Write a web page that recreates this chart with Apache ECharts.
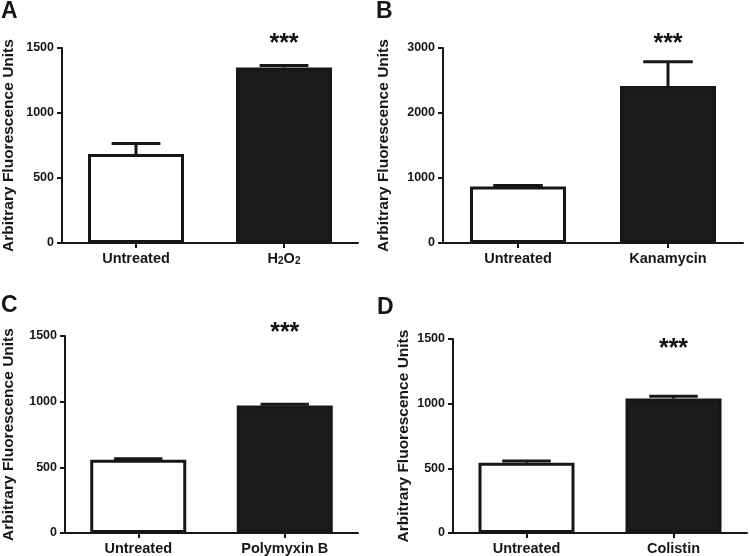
<!DOCTYPE html>
<html><head><meta charset="utf-8">
<script src="https://cdn.jsdelivr.net/npm/echarts@6/dist/echarts.min.js"></script>
<style>html,body{margin:0;padding:0;background:#fff}#c{width:750px;height:556px}</style>
</head><body><div id="c"></div>
<script>
// ---- data ----
const panelLetters = ['A', 'B', 'C', 'D'];
const categoriesA = ['Untreated', 'H2O2'];
const categoriesB = ['Untreated', 'Kanamycin'];
const categoriesC = ['Untreated', 'Polymyxin B'];
const categoriesD = ['Untreated', 'Colistin'];
const meansA = [685, 1350];
const errorsA = [80, 15];
const meansB = [870, 2415];
const errorsB = [15, 375];
const meansC = [558, 970];
const errorsC = [8, 10];
const meansD = [544, 1040];
const errorsD = [13, 18];
const yMaxes = [1500, 3000, 1500, 1500];
const yIntervals = [500, 1000, 500, 500];
const starLevels = [1530, 3060, 1525, 1425];
const starText = '***';
const yTitle = 'Arbitrary Fluorescence Units';

// ---- layout ----
const grids = [
  {left: 60, top: 48, width: 298, height: 195},
  {left: 443, top: 48, width: 300, height: 195},
  {left: 63, top: 336, width: 295, height: 197},
  {left: 453, top: 339, width: 294, height: 195}
];
const nameGaps = [45, 51, 48, 41];
const letterPos = [[1, 0], [376, 0], [1, 294], [377, 296]];
const FONT = '"Liberation Sans", Arial, Helvetica, sans-serif';
const INK = '#161616';

const cats = [categoriesA, categoriesB, categoriesC, categoriesD];
const means = [meansA, meansB, meansC, meansD];
const errs = [errorsA, errorsB, errorsC, errorsD];

const xAxes = [], yAxes = [], series = [];
cats.forEach((c, i) => {
  xAxes.push({
    type: 'category', gridIndex: i, data: c,
    axisLine: {lineStyle: {color: INK, width: 2}},
    axisTick: {show: true, alignWithLabel: true, length: 5, lineStyle: {color: INK, width: 2}},
    axisLabel: {
      interval: 0, hideOverlap: false,
      margin: 8, color: INK, fontFamily: FONT, fontWeight: 'bold', fontSize: 14.5,
      formatter: v => v === 'H2O2' ? '{n|H}{s|2}{n|O}{s|2}' : v,
      rich: {
        n: {fontFamily: FONT, fontWeight: 'bold', fontSize: 14.5, color: INK, lineHeight: 16, verticalAlign: 'top'},
        s: {fontFamily: FONT, fontWeight: 'bold', fontSize: 10, color: INK, lineHeight: 16, verticalAlign: 'top', padding: [5, 0, 0, 0]}
      }
    }
  });
  yAxes.push({
    type: 'value', gridIndex: i, min: 0, max: yMaxes[i], interval: yIntervals[i],
    name: yTitle, nameLocation: 'middle', nameGap: nameGaps[i],
    nameTextStyle: {fontFamily: FONT, fontWeight: 'bold', fontSize: 15.5, color: INK},
    axisLine: {show: true, lineStyle: {color: INK, width: 2}},
    axisTick: {show: true, length: 5, lineStyle: {color: INK, width: 2}},
    splitLine: {show: false},
    axisLabel: {margin: 8, color: INK, fontFamily: FONT, fontWeight: 'bold', fontSize: 12.5,
      formatter: v => String(v)}
  });
  series.push({
    type: 'bar', xAxisIndex: i, yAxisIndex: i, barWidth: 96, z: 2,
    data: means[i].map((v, k) => ({
      value: v,
      itemStyle: {color: k === 0 ? '#ffffff' : '#1b1b1b', borderColor: INK, borderWidth: 3}
    }))
  });
  series.push({
    type: 'custom', xAxisIndex: i, yAxisIndex: i, z: 3,
    data: means[i].map((v, k) => [k, v, errs[i][k]]),
    renderItem: (params, api) => {
      const x = api.value(0), y = api.value(1), e = api.value(2);
      const base = api.coord([x, y]);
      const top = api.coord([x, y + e]);
      const half = api.size([1, 0])[0] * 0.165;
      const st = {stroke: INK, lineWidth: 3, fill: null};
      return {type: 'group', children: [
        {type: 'line', shape: {x1: top[0], y1: base[1], x2: top[0], y2: top[1]}, style: st},
        {type: 'line', shape: {x1: top[0] - half, y1: top[1], x2: top[0] + half, y2: top[1]}, style: st}
      ]};
    }
  });
  series.push({
    type: 'scatter', xAxisIndex: i, yAxisIndex: i, z: 4, clip: false,
    symbolSize: 1, silent: true,
    itemStyle: {opacity: 0},
    data: [[c[1], starLevels[i]]],
    label: {show: true, position: 'inside', formatter: starText,
      fontFamily: FONT, fontWeight: 'bold', fontSize: 25, color: '#111', opacity: 1}
  });
});

const chart = echarts.init(document.getElementById('c'), null, {renderer: 'canvas'});
chart.setOption({
  animation: false,
  backgroundColor: '#ffffff',
  grid: grids,
  xAxis: xAxes,
  yAxis: yAxes,
  series: series,
  graphic: panelLetters.map((L, i) => ({
    type: 'text', left: letterPos[i][0], top: letterPos[i][1],
    style: {text: L, fontFamily: FONT, fontWeight: 'bold', fontSize: 23, fill: INK}
  }))
});
</script></body></html>
